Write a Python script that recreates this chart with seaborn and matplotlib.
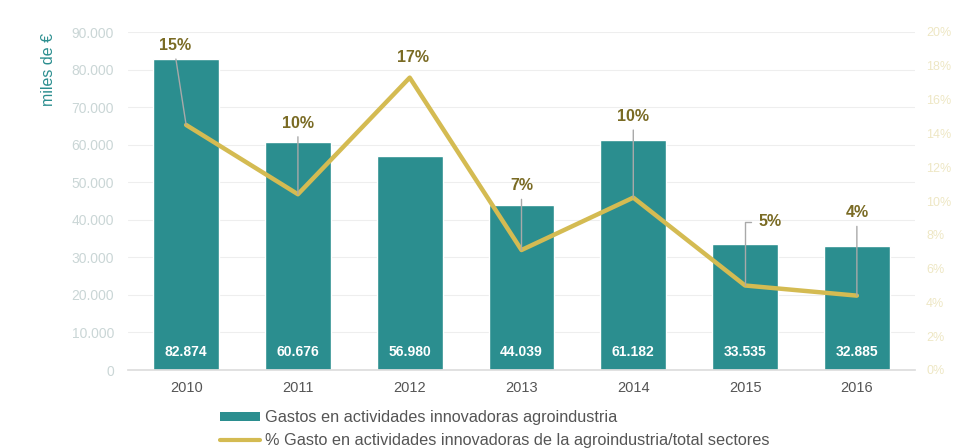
import matplotlib
matplotlib.use("Agg")
import matplotlib.pyplot as plt
import seaborn as sns
import pandas as pd
from matplotlib.patches import Patch
from matplotlib.lines import Line2D

years = ["2010", "2011", "2012", "2013", "2014", "2015", "2016"]
gasto = [82874, 60676, 56980, 44039, 61182, 33535, 32885]
gasto_labels = ["82.874", "60.676", "56.980", "44.039", "61.182", "33.535", "32.885"]
pct = [14.5, 10.4, 17.3, 7.1, 10.2, 5.0, 4.4]
pct_labels = ["15%", "10%", "17%", "7%", "10%", "5%", "4%"]
left_ticks = [0, 10000, 20000, 30000, 40000, 50000, 60000, 70000, 80000, 90000]
left_tick_labels = ["0", "10.000", "20.000", "30.000", "40.000", "50.000",
                    "60.000", "70.000", "80.000", "90.000"]
right_ticks = [0, 2, 4, 6, 8, 10, 12, 14, 16, 18, 20]
right_tick_labels = ["0%", "2%", "4%", "6%", "8%", "10%", "12%", "14%", "16%", "18%", "20%"]
legend_labels = ["Gastos en actividades innovadoras agroindustria",
                 "% Gasto en actividades innovadoras de la agroindustria/total sectores"]

TEAL = "#2b8e8f"
GOLD = "#d4bb52"
OLIVE = "#7a6b24"

sns.set_theme(style="white")
plt.rcParams["font.family"] = ["Liberation Sans", "DejaVu Sans"]

df = pd.DataFrame({"year": years, "gasto": gasto, "pct": pct})

fig = plt.figure(figsize=(9.66, 4.48), dpi=100)
ax = fig.add_axes([128 / 966, 1 - 370 / 448, (915 - 128) / 966, 338 / 448])

sns.barplot(data=df, x="year", y="gasto", color=TEAL, width=0.59, ax=ax,
            saturation=1, order=years)
ax.set_xlim(-0.52, 6.52)
ax.set_ylim(0, 90000)
ax.set_yticks(left_ticks)
ax.set_yticklabels(left_tick_labels, color="#cad6d6", fontsize=10)
ax.tick_params(axis="y", length=0, pad=10)
ax.tick_params(axis="x", length=0, pad=8, labelsize=10.5, labelcolor="#555555")
ax.set_xlabel("")
ax.set_ylabel("miles de €", color=TEAL, fontsize=11.5, labelpad=20)
ax.yaxis.set_label_coords(-0.092, 0.89)
for s in ["top", "right", "left"]:
    ax.spines[s].set_visible(False)
ax.spines["bottom"].set_color("#dddddd")
ax.grid(axis="y", color="#eeeeee", lw=0.8)
ax.set_axisbelow(True)

for i, lab in enumerate(gasto_labels):
    ax.text(i, 4800, lab, color="white", fontweight="bold", fontsize=10,
            ha="center", va="center")

ax2 = ax.twinx()
sns.lineplot(x=list(range(len(years))), y=pct, color=GOLD, lw=3.2, ax=ax2)
ax2.set_ylim(0, 20)
ax2.set_yticks(right_ticks)
ax2.set_yticklabels(right_tick_labels, color="#eee7c4", fontsize=9)
ax2.tick_params(axis="y", length=0, pad=8)
for s in ax2.spines.values():
    s.set_visible(False)
ax2.grid(False)

# label positions (data coords of the % axis)
label_pos = [(-0.1, 19.2), (1.0, 14.6), (2.03, 18.5), (3.0, 10.9),
             (4.0, 15.0), (5.22, 8.76), (6.0, 9.3)]
for i, (lab, (tx, ty)) in enumerate(zip(pct_labels, label_pos)):
    if i == 2:
        ax2.text(tx, ty, lab, color=OLIVE, fontweight="bold", fontsize=11.5,
                 ha="center", va="center")
        continue
    if i == 5:
        arrow = dict(arrowstyle="-", color="#a9a9a9", lw=1,
                     connectionstyle="angle,angleA=180,angleB=90,rad=0",
                     relpos=(0, 0.5), shrinkA=3, shrinkB=0)
    else:
        arrow = dict(arrowstyle="-", color="#a9a9a9", lw=1,
                     relpos=(0.5, 0), shrinkA=2, shrinkB=0)
    ax2.annotate(lab, xy=(i, pct[i]), xytext=(tx, ty), color=OLIVE,
                 fontweight="bold", fontsize=11.5, ha="center", va="center",
                 arrowprops=arrow, zorder=5)

handles = [Patch(facecolor=TEAL, edgecolor="none"),
           Line2D([0], [0], color=GOLD, lw=3)]
fig.legend(handles, legend_labels, loc="upper left",
           bbox_to_anchor=(220 / 966, 1 - 410 / 448), frameon=False,
           fontsize=11.7, handlelength=2.45, handleheight=0.45, handletextpad=0.3,
           labelspacing=0.5, labelcolor="#555555", borderaxespad=0, borderpad=0)

fig.savefig("out.png", dpi=100)
